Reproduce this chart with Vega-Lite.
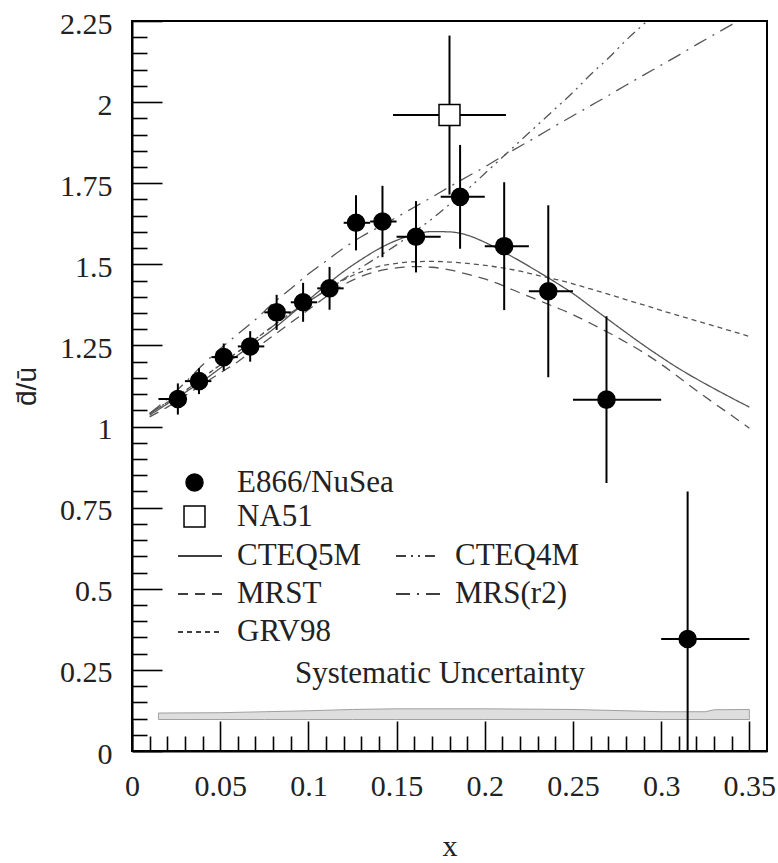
{
  "$schema": "https://vega.github.io/schema/vega-lite/v6.json",
  "width": 635,
  "height": 730,
  "autosize": {"type": "none"},
  "padding": {"left": 132, "top": 21, "right": 11, "bottom": 112},
  "background": "white",
  "datasets": {
    "pts": [
      {"exp": "E866/NuSea", "x": 0.026, "y": 1.085, "xlo": 0.015, "xhi": 0.03, "ylo": 1.037, "yhi": 1.133},
      {"exp": "E866/NuSea", "x": 0.038, "y": 1.14, "xlo": 0.03, "xhi": 0.045, "ylo": 1.1, "yhi": 1.18},
      {"exp": "E866/NuSea", "x": 0.052, "y": 1.214, "xlo": 0.045, "xhi": 0.06, "ylo": 1.172, "yhi": 1.256},
      {"exp": "E866/NuSea", "x": 0.067, "y": 1.247, "xlo": 0.06, "xhi": 0.075, "ylo": 1.2, "yhi": 1.294},
      {"exp": "E866/NuSea", "x": 0.082, "y": 1.352, "xlo": 0.075, "xhi": 0.09, "ylo": 1.298, "yhi": 1.406},
      {"exp": "E866/NuSea", "x": 0.097, "y": 1.383, "xlo": 0.09, "xhi": 0.105, "ylo": 1.323, "yhi": 1.443},
      {"exp": "E866/NuSea", "x": 0.112, "y": 1.426, "xlo": 0.105, "xhi": 0.12, "ylo": 1.36, "yhi": 1.492},
      {"exp": "E866/NuSea", "x": 0.127, "y": 1.628, "xlo": 0.12, "xhi": 0.135, "ylo": 1.543, "yhi": 1.713},
      {"exp": "E866/NuSea", "x": 0.142, "y": 1.632, "xlo": 0.135, "xhi": 0.15, "ylo": 1.522, "yhi": 1.742},
      {"exp": "E866/NuSea", "x": 0.161, "y": 1.585, "xlo": 0.15, "xhi": 0.175, "ylo": 1.475, "yhi": 1.695},
      {"exp": "E866/NuSea", "x": 0.186, "y": 1.708, "xlo": 0.175, "xhi": 0.2, "ylo": 1.548, "yhi": 1.868},
      {"exp": "E866/NuSea", "x": 0.211, "y": 1.556, "xlo": 0.2, "xhi": 0.225, "ylo": 1.359, "yhi": 1.753},
      {"exp": "E866/NuSea", "x": 0.236, "y": 1.417, "xlo": 0.225, "xhi": 0.25, "ylo": 1.152, "yhi": 1.682},
      {"exp": "E866/NuSea", "x": 0.269, "y": 1.083, "xlo": 0.25, "xhi": 0.3, "ylo": 0.826, "yhi": 1.34},
      {"exp": "E866/NuSea", "x": 0.315, "y": 0.345, "xlo": 0.3, "xhi": 0.35, "ylo": -0.11, "yhi": 0.8},
      {"exp": "NA51", "x": 0.18, "y": 1.96, "xlo": 0.148, "xhi": 0.212, "ylo": 1.715, "yhi": 2.205}
    ],
    "theory": [
      {"m": "CTEQ5M", "x": 0.01, "y": 1.035}, {"m": "CTEQ5M", "x": 0.02, "y": 1.07}, {"m": "CTEQ5M", "x": 0.03, "y": 1.105},
      {"m": "CTEQ5M", "x": 0.04, "y": 1.14}, {"m": "CTEQ5M", "x": 0.05, "y": 1.18}, {"m": "CTEQ5M", "x": 0.06, "y": 1.22},
      {"m": "CTEQ5M", "x": 0.07, "y": 1.26}, {"m": "CTEQ5M", "x": 0.08, "y": 1.3}, {"m": "CTEQ5M", "x": 0.09, "y": 1.345},
      {"m": "CTEQ5M", "x": 0.1, "y": 1.39}, {"m": "CTEQ5M", "x": 0.11, "y": 1.435}, {"m": "CTEQ5M", "x": 0.12, "y": 1.478},
      {"m": "CTEQ5M", "x": 0.13, "y": 1.515}, {"m": "CTEQ5M", "x": 0.14, "y": 1.548}, {"m": "CTEQ5M", "x": 0.15, "y": 1.574},
      {"m": "CTEQ5M", "x": 0.16, "y": 1.592}, {"m": "CTEQ5M", "x": 0.17, "y": 1.601}, {"m": "CTEQ5M", "x": 0.18, "y": 1.6},
      {"m": "CTEQ5M", "x": 0.19, "y": 1.59}, {"m": "CTEQ5M", "x": 0.2, "y": 1.568}, {"m": "CTEQ5M", "x": 0.21, "y": 1.54},
      {"m": "CTEQ5M", "x": 0.22, "y": 1.51}, {"m": "CTEQ5M", "x": 0.23, "y": 1.478}, {"m": "CTEQ5M", "x": 0.24, "y": 1.445},
      {"m": "CTEQ5M", "x": 0.25, "y": 1.41}, {"m": "CTEQ5M", "x": 0.26, "y": 1.37}, {"m": "CTEQ5M", "x": 0.27, "y": 1.33},
      {"m": "CTEQ5M", "x": 0.28, "y": 1.29}, {"m": "CTEQ5M", "x": 0.29, "y": 1.251}, {"m": "CTEQ5M", "x": 0.3, "y": 1.214},
      {"m": "CTEQ5M", "x": 0.31, "y": 1.179}, {"m": "CTEQ5M", "x": 0.32, "y": 1.147}, {"m": "CTEQ5M", "x": 0.33, "y": 1.117},
      {"m": "CTEQ5M", "x": 0.34, "y": 1.088}, {"m": "CTEQ5M", "x": 0.35, "y": 1.06},
      {"m": "GRV98", "x": 0.01, "y": 1.04}, {"m": "GRV98", "x": 0.02, "y": 1.075}, {"m": "GRV98", "x": 0.03, "y": 1.11},
      {"m": "GRV98", "x": 0.04, "y": 1.15}, {"m": "GRV98", "x": 0.05, "y": 1.19}, {"m": "GRV98", "x": 0.06, "y": 1.23},
      {"m": "GRV98", "x": 0.07, "y": 1.27}, {"m": "GRV98", "x": 0.08, "y": 1.31}, {"m": "GRV98", "x": 0.09, "y": 1.35},
      {"m": "GRV98", "x": 0.1, "y": 1.385}, {"m": "GRV98", "x": 0.11, "y": 1.42}, {"m": "GRV98", "x": 0.12, "y": 1.452},
      {"m": "GRV98", "x": 0.13, "y": 1.477}, {"m": "GRV98", "x": 0.14, "y": 1.494}, {"m": "GRV98", "x": 0.15, "y": 1.503},
      {"m": "GRV98", "x": 0.16, "y": 1.508}, {"m": "GRV98", "x": 0.17, "y": 1.509}, {"m": "GRV98", "x": 0.18, "y": 1.507},
      {"m": "GRV98", "x": 0.19, "y": 1.503}, {"m": "GRV98", "x": 0.2, "y": 1.497}, {"m": "GRV98", "x": 0.21, "y": 1.489},
      {"m": "GRV98", "x": 0.22, "y": 1.479}, {"m": "GRV98", "x": 0.23, "y": 1.466}, {"m": "GRV98", "x": 0.24, "y": 1.454},
      {"m": "GRV98", "x": 0.25, "y": 1.44}, {"m": "GRV98", "x": 0.26, "y": 1.424}, {"m": "GRV98", "x": 0.27, "y": 1.408},
      {"m": "GRV98", "x": 0.28, "y": 1.391}, {"m": "GRV98", "x": 0.29, "y": 1.375}, {"m": "GRV98", "x": 0.3, "y": 1.358},
      {"m": "GRV98", "x": 0.31, "y": 1.342}, {"m": "GRV98", "x": 0.32, "y": 1.326}, {"m": "GRV98", "x": 0.33, "y": 1.31},
      {"m": "GRV98", "x": 0.34, "y": 1.294}, {"m": "GRV98", "x": 0.35, "y": 1.278},
      {"m": "MRST", "x": 0.01, "y": 1.03}, {"m": "MRST", "x": 0.02, "y": 1.06}, {"m": "MRST", "x": 0.03, "y": 1.095},
      {"m": "MRST", "x": 0.04, "y": 1.13}, {"m": "MRST", "x": 0.05, "y": 1.165}, {"m": "MRST", "x": 0.06, "y": 1.2},
      {"m": "MRST", "x": 0.07, "y": 1.24}, {"m": "MRST", "x": 0.08, "y": 1.28}, {"m": "MRST", "x": 0.09, "y": 1.32},
      {"m": "MRST", "x": 0.1, "y": 1.36}, {"m": "MRST", "x": 0.11, "y": 1.4}, {"m": "MRST", "x": 0.12, "y": 1.437},
      {"m": "MRST", "x": 0.13, "y": 1.463}, {"m": "MRST", "x": 0.14, "y": 1.48}, {"m": "MRST", "x": 0.15, "y": 1.489},
      {"m": "MRST", "x": 0.16, "y": 1.493}, {"m": "MRST", "x": 0.17, "y": 1.491}, {"m": "MRST", "x": 0.18, "y": 1.483},
      {"m": "MRST", "x": 0.19, "y": 1.47}, {"m": "MRST", "x": 0.2, "y": 1.455}, {"m": "MRST", "x": 0.21, "y": 1.435},
      {"m": "MRST", "x": 0.22, "y": 1.412}, {"m": "MRST", "x": 0.23, "y": 1.39}, {"m": "MRST", "x": 0.24, "y": 1.368},
      {"m": "MRST", "x": 0.25, "y": 1.345}, {"m": "MRST", "x": 0.26, "y": 1.318}, {"m": "MRST", "x": 0.27, "y": 1.29},
      {"m": "MRST", "x": 0.28, "y": 1.26}, {"m": "MRST", "x": 0.29, "y": 1.228}, {"m": "MRST", "x": 0.3, "y": 1.192},
      {"m": "MRST", "x": 0.31, "y": 1.152}, {"m": "MRST", "x": 0.32, "y": 1.111}, {"m": "MRST", "x": 0.33, "y": 1.072},
      {"m": "MRST", "x": 0.34, "y": 1.034}, {"m": "MRST", "x": 0.35, "y": 0.995},
      {"m": "MRS(r2)", "x": 0.01, "y": 1.04}, {"m": "MRS(r2)", "x": 0.02, "y": 1.085}, {"m": "MRS(r2)", "x": 0.03, "y": 1.135},
      {"m": "MRS(r2)", "x": 0.04, "y": 1.19}, {"m": "MRS(r2)", "x": 0.05, "y": 1.24}, {"m": "MRS(r2)", "x": 0.06, "y": 1.285},
      {"m": "MRS(r2)", "x": 0.07, "y": 1.33}, {"m": "MRS(r2)", "x": 0.08, "y": 1.38}, {"m": "MRS(r2)", "x": 0.09, "y": 1.425},
      {"m": "MRS(r2)", "x": 0.1, "y": 1.47}, {"m": "MRS(r2)", "x": 0.11, "y": 1.51}, {"m": "MRS(r2)", "x": 0.12, "y": 1.55},
      {"m": "MRS(r2)", "x": 0.13, "y": 1.585}, {"m": "MRS(r2)", "x": 0.14, "y": 1.615}, {"m": "MRS(r2)", "x": 0.15, "y": 1.645},
      {"m": "MRS(r2)", "x": 0.16, "y": 1.676}, {"m": "MRS(r2)", "x": 0.17, "y": 1.707}, {"m": "MRS(r2)", "x": 0.18, "y": 1.739},
      {"m": "MRS(r2)", "x": 0.19, "y": 1.77}, {"m": "MRS(r2)", "x": 0.2, "y": 1.8}, {"m": "MRS(r2)", "x": 0.21, "y": 1.833},
      {"m": "MRS(r2)", "x": 0.22, "y": 1.864}, {"m": "MRS(r2)", "x": 0.23, "y": 1.895}, {"m": "MRS(r2)", "x": 0.24, "y": 1.927},
      {"m": "MRS(r2)", "x": 0.25, "y": 1.958}, {"m": "MRS(r2)", "x": 0.26, "y": 1.989}, {"m": "MRS(r2)", "x": 0.27, "y": 2.02},
      {"m": "MRS(r2)", "x": 0.28, "y": 2.052}, {"m": "MRS(r2)", "x": 0.29, "y": 2.083}, {"m": "MRS(r2)", "x": 0.3, "y": 2.114},
      {"m": "MRS(r2)", "x": 0.31, "y": 2.145}, {"m": "MRS(r2)", "x": 0.32, "y": 2.177}, {"m": "MRS(r2)", "x": 0.33, "y": 2.208},
      {"m": "MRS(r2)", "x": 0.34, "y": 2.239}, {"m": "MRS(r2)", "x": 0.35, "y": 2.27},
      {"m": "CTEQ4M", "x": 0.01, "y": 1.04}, {"m": "CTEQ4M", "x": 0.02, "y": 1.075}, {"m": "CTEQ4M", "x": 0.03, "y": 1.11},
      {"m": "CTEQ4M", "x": 0.04, "y": 1.15}, {"m": "CTEQ4M", "x": 0.05, "y": 1.19}, {"m": "CTEQ4M", "x": 0.06, "y": 1.23},
      {"m": "CTEQ4M", "x": 0.07, "y": 1.27}, {"m": "CTEQ4M", "x": 0.08, "y": 1.31}, {"m": "CTEQ4M", "x": 0.09, "y": 1.35},
      {"m": "CTEQ4M", "x": 0.1, "y": 1.385}, {"m": "CTEQ4M", "x": 0.11, "y": 1.42}, {"m": "CTEQ4M", "x": 0.12, "y": 1.455},
      {"m": "CTEQ4M", "x": 0.13, "y": 1.49}, {"m": "CTEQ4M", "x": 0.14, "y": 1.525}, {"m": "CTEQ4M", "x": 0.15, "y": 1.56},
      {"m": "CTEQ4M", "x": 0.16, "y": 1.6}, {"m": "CTEQ4M", "x": 0.17, "y": 1.64}, {"m": "CTEQ4M", "x": 0.18, "y": 1.685},
      {"m": "CTEQ4M", "x": 0.19, "y": 1.73}, {"m": "CTEQ4M", "x": 0.2, "y": 1.78}, {"m": "CTEQ4M", "x": 0.21, "y": 1.83},
      {"m": "CTEQ4M", "x": 0.22, "y": 1.88}, {"m": "CTEQ4M", "x": 0.23, "y": 1.93}, {"m": "CTEQ4M", "x": 0.24, "y": 1.98},
      {"m": "CTEQ4M", "x": 0.25, "y": 2.03}, {"m": "CTEQ4M", "x": 0.26, "y": 2.085}, {"m": "CTEQ4M", "x": 0.27, "y": 2.135},
      {"m": "CTEQ4M", "x": 0.28, "y": 2.19}, {"m": "CTEQ4M", "x": 0.29, "y": 2.24}, {"m": "CTEQ4M", "x": 0.3, "y": 2.29}
    ],
    "syst": [
      {"x": 0.015, "lo": 0.097, "hi": 0.117}, {"x": 0.05, "lo": 0.097, "hi": 0.118},
      {"x": 0.075, "lo": 0.097, "hi": 0.121}, {"x": 0.1, "lo": 0.097, "hi": 0.124},
      {"x": 0.125, "lo": 0.097, "hi": 0.128}, {"x": 0.15, "lo": 0.097, "hi": 0.13},
      {"x": 0.2, "lo": 0.097, "hi": 0.13}, {"x": 0.25, "lo": 0.097, "hi": 0.128},
      {"x": 0.28, "lo": 0.097, "hi": 0.124}, {"x": 0.3, "lo": 0.097, "hi": 0.121},
      {"x": 0.325, "lo": 0.097, "hi": 0.121}, {"x": 0.33, "lo": 0.097, "hi": 0.127},
      {"x": 0.35, "lo": 0.097, "hi": 0.128}
    ]
  },
  "layer": [
    {
      "data": {"name": "syst"},
      "mark": {"type": "area", "fill": "#dedede", "stroke": "#a0a0a0", "strokeWidth": 1},
      "encoding": {
        "x": {
          "field": "x", "type": "quantitative", "title": "x",
          "scale": {"domain": [0, 0.36], "nice": false, "zero": false},
          "axis": {
            "values": [0,0.01,0.02,0.03,0.04,0.05,0.06,0.07,0.08,0.09,0.1,0.11,0.12,0.13,0.14,0.15,0.16,0.17,0.18,0.19,0.2,0.21,0.22,0.23,0.24,0.25,0.26,0.27,0.28,0.29,0.3,0.31,0.32,0.33,0.34,0.35],
            "tickCount": 200,
            "format": ".2~f",
            "labelExpr": "abs(datum.value*20 - round(datum.value*20)) < 0.001 ? datum.label : ''",
            "tickSize": {"condition": {"test": "abs(datum.value*20 - round(datum.value*20)) < 0.001", "value": -30}, "value": -15},
            "labelPadding": 50,
            "titleY": 104,
            "titleBaseline": "alphabetic",
            "titleFontSize": 30
          }
        },
        "y": {
          "field": "lo", "type": "quantitative", "title": "d\u0304/\u016b",
          "scale": {"domain": [0, 2.25], "nice": false, "zero": false},
          "axis": {
            "values": [0,0.05,0.1,0.15,0.2,0.25,0.3,0.35,0.4,0.45,0.5,0.55,0.6,0.65,0.7,0.75,0.8,0.85,0.9,0.95,1,1.05,1.1,1.15,1.2,1.25,1.3,1.35,1.4,1.45,1.5,1.55,1.6,1.65,1.7,1.75,1.8,1.85,1.9,1.95,2,2.05,2.1,2.15,2.2,2.25],
            "tickCount": 200,
            "format": ".2~f",
            "labelExpr": "abs(datum.value*4 - round(datum.value*4)) < 0.001 ? datum.label : ''",
            "tickSize": {"condition": {"test": "abs(datum.value*4 - round(datum.value*4)) < 0.001", "value": -30}, "value": -15},
            "labelPadding": 50,
            "labelOffset": 3,
            "titleFont": "Liberation Sans",
            "titleFontSize": 28,
            "titleX": -105,
            "titleY": 365,
            "titleAngle": -90,
            "titleBaseline": "middle"
          }
        },
        "y2": {"field": "hi"}
      }
    },
    {
      "data": {"name": "theory"},
      "mark": {"type": "line", "clip": true, "strokeWidth": 1.3, "color": "#555555", "interpolate": "monotone"},
      "encoding": {
        "x": {"field": "x", "type": "quantitative", "title": "x"},
        "y": {"field": "y", "type": "quantitative", "title": "d\u0304/\u016b"},
        "strokeDash": {
          "field": "m", "type": "nominal",
          "scale": {
            "domain": ["CTEQ5M", "MRST", "GRV98", "CTEQ4M", "MRS(r2)"],
            "range": [[1, 0], [10, 7], [5, 4], [10, 5, 2, 5, 2, 5], [14, 7, 2, 7]]
          },
          "legend": {
            "orient": "none", "legendX": 45, "legendY": 512, "columns": 2,
            "columnPadding": 32, "rowPadding": -3.5, "symbolType": "stroke", "symbolSize": 1936,
            "symbolStrokeColor": "black", "symbolStrokeWidth": 1.5, "labelOffset": 14
          }
        }
      }
    },
    {
      "data": {"name": "pts"},
      "mark": {"type": "rule", "color": "black", "strokeWidth": 2, "clip": true},
      "encoding": {
        "x": {"field": "x", "type": "quantitative", "title": "x"},
        "y": {"field": "ylo", "type": "quantitative", "title": "d\u0304/\u016b"},
        "y2": {"field": "yhi"}
      }
    },
    {
      "data": {"name": "pts"},
      "mark": {"type": "rule", "color": "black", "strokeWidth": 2, "clip": true},
      "encoding": {
        "x": {"field": "xlo", "type": "quantitative", "title": "x"},
        "x2": {"field": "xhi"},
        "y": {"field": "y", "type": "quantitative", "title": "d\u0304/\u016b"}
      }
    },
    {
      "data": {"name": "pts"},
      "mark": {"type": "point", "stroke": "black", "strokeWidth": 1.5, "opacity": 1},
      "encoding": {
        "x": {"field": "x", "type": "quantitative", "title": "x"},
        "y": {"field": "y", "type": "quantitative", "title": "d\u0304/\u016b"},
        "shape": {
          "field": "exp", "type": "nominal",
          "scale": {"domain": ["E866/NuSea", "NA51"], "range": ["circle", "square"]},
          "legend": {
            "orient": "none", "legendX": 47, "legendY": 446, "rowPadding": 2,
            "labelOffset": 27, "symbolStrokeColor": "black", "symbolStrokeWidth": 1.5
          }
        },
        "fill": {
          "field": "exp", "type": "nominal",
          "scale": {"domain": ["E866/NuSea", "NA51"], "range": ["black", "white"]}
        },
        "size": {
          "field": "exp", "type": "nominal",
          "scale": {"domain": ["E866/NuSea", "NA51"], "range": [290, 440]}
        }
      }
    },
    {
      "data": {"values": [{}]},
      "mark": {"type": "text", "font": "Liberation Serif", "fontSize": 31, "color": "#222222", "align": "center", "baseline": "middle"},
      "encoding": {
        "x": {"datum": 0.1746, "type": "quantitative"},
        "y": {"datum": 0.2375, "type": "quantitative"},
        "text": {"value": "Systematic Uncertainty"}
      }
    }
  ],
  "config": {
    "font": "Liberation Serif",
    "view": {"stroke": "black", "strokeWidth": 2},
    "axis": {
      "grid": false,
      "domainColor": "black",
      "domainWidth": 2,
      "tickColor": "black",
      "tickWidth": 1.6,
      "labelFont": "Liberation Serif",
      "labelFontSize": 30,
      "labelColor": "#222222",
      "labelFlush": false,
      "labelOverlap": false,
      "labelBound": false,
      "titleFont": "Liberation Serif",
      "titleFontWeight": "normal",
      "titleColor": "#222222"
    },
    "legend": {
      "title": null,
      "padding": 0,
      "labelFont": "Liberation Serif",
      "labelFontSize": 31,
      "labelColor": "#222222",
      "labelLimit": 400
    }
  }
}
